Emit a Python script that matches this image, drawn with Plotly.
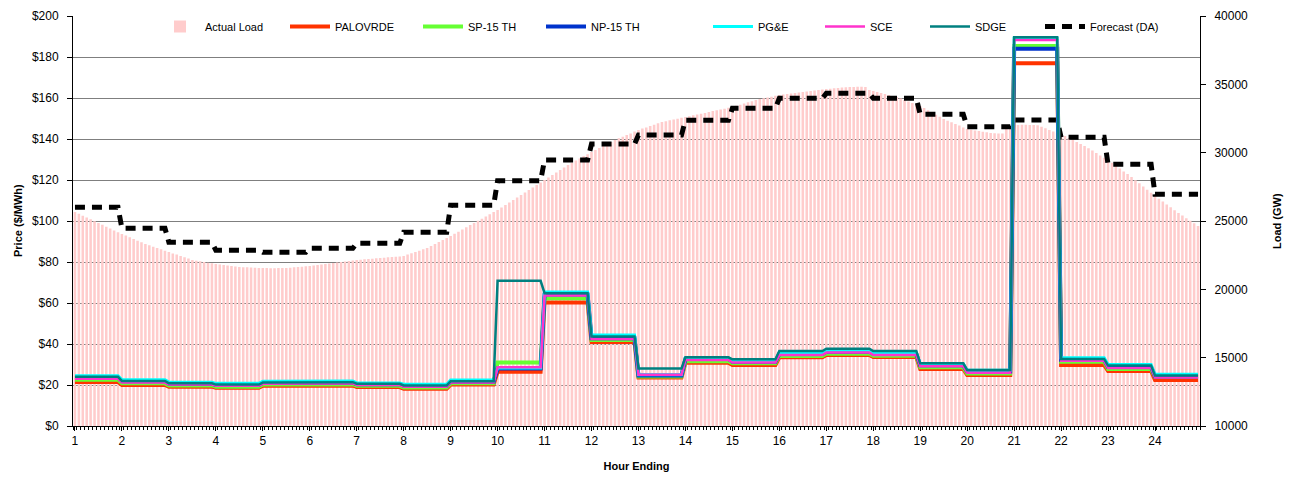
import numpy as np
import plotly.graph_objects as go

# ---------------- data ----------------
hours = list(range(1, 25))
intervals_per_hour = 12

# Actual load (MW), one value per 5-minute interval, hour by hour
actual_load = [
    25660, 25530, 25390, 25260, 25120, 24990, 24850, 24720, 24580, 24450, 24310, 24180,  # 1
    24050, 23930, 23810, 23680, 23560, 23440, 23320, 23220, 23120, 23030, 22930, 22830,  # 2
    22730, 22630, 22540, 22440, 22340, 22250, 22150, 22100, 22050, 22000, 21950, 21900,  # 3
    21850, 21820, 21780, 21740, 21710, 21670, 21630, 21620, 21610, 21600, 21580, 21570,  # 4
    21560, 21560, 21550, 21550, 21560, 21560, 21560, 21580, 21610, 21630, 21660, 21680,  # 5
    21710, 21740, 21780, 21820, 21850, 21890, 21930, 21960, 22000, 22040, 22070, 22110,  # 6
    22150, 22170, 22200, 22220, 22240, 22270, 22290, 22320, 22340, 22370, 22390, 22410,  # 7
    22440, 22540, 22640, 22730, 22830, 22930, 23020, 23170, 23310, 23460, 23610, 23750,  # 8
    23900, 24060, 24220, 24380, 24540, 24700, 24850, 25010, 25170, 25330, 25490, 25650,  # 9
    25810, 25990, 26170, 26350, 26540, 26720, 26900, 27080, 27270, 27450, 27630, 27820,  # 10
    28000, 28180, 28370, 28550, 28730, 28910, 29100, 29260, 29420, 29570, 29730, 29890,  # 11
    30050, 30200, 30340, 30490, 30630, 30780, 30930, 31050, 31170, 31290, 31410, 31540,  # 12
    31660, 31760, 31850, 31950, 32050, 32150, 32240, 32300, 32370, 32430, 32490, 32550,  # 13
    32610, 32670, 32730, 32790, 32850, 32910, 32980, 33040, 33100, 33160, 33220, 33280,  # 14
    33340, 33430, 33510, 33600, 33680, 33770, 33850, 33920, 33980, 34040, 34100, 34160,  # 15
    34220, 34260, 34290, 34330, 34370, 34400, 34440, 34480, 34510, 34550, 34590, 34620,  # 16
    34660, 34680, 34710, 34730, 34760, 34780, 34800, 34810, 34820, 34820, 34810, 34590,  # 17
    34510, 34440, 34370, 34290, 34220, 34150, 34070, 33960, 33850, 33740, 33630, 33520,  # 18
    33420, 33260, 33100, 32940, 32780, 32620, 32460, 32340, 32220, 32100, 31980, 31850,  # 19
    31730, 31680, 31630, 31580, 31530, 31490, 31440, 31420, 31400, 31400, 31760, 31950,  # 20
    32020, 32030, 32040, 32040, 32030, 32020, 32000, 31900, 31780, 31660, 31540, 31430,  # 21
    31370, 31220, 31080, 30930, 30780, 30640, 30490, 30320, 30150, 29980, 29800, 29630,  # 22
    29460, 29260, 29050, 28840, 28630, 28430, 28220, 27990, 27760, 27520, 27290, 27060,  # 23
    26830, 26620, 26420, 26210, 26000, 25790, 25590, 25400, 25210, 25020, 24830, 24640,  # 24
]

# Hourly prices ($/MWh)
palovrde = [21.5, 20.0, 19.2, 18.6, 19.6, 19.8, 19.0, 18.2, 20.2, 26.5, 60.2, 41.0,
            23.7, 30.9, 29.8, 33.5, 34.6, 33.6, 27.8, 24.9, 177.0, 29.8, 26.8, 22.4]
sp15 = [22.5, 20.8, 19.8, 19.2, 20.2, 20.4, 19.6, 18.8, 20.8, 31.0, 62.3, 42.0,
        24.2, 31.6, 30.6, 34.2, 35.3, 34.3, 28.6, 25.6, 185.4, 31.3, 27.8, 23.9]
np15 = [23.5, 21.8, 20.6, 20.0, 21.0, 21.2, 20.4, 19.6, 21.6, 28.0, 64.2, 42.8,
        24.6, 32.7, 31.4, 35.1, 36.2, 35.1, 29.6, 26.6, 184.0, 32.3, 28.8, 24.2]
pge = [24.5, 22.6, 21.4, 20.8, 21.8, 22.0, 21.0, 20.4, 22.4, 28.3, 65.4, 44.4,
       25.0, 33.2, 32.0, 35.8, 36.9, 35.8, 30.4, 27.2, 189.0, 33.3, 30.0, 25.2]
sce = [23.0, 21.2, 20.2, 19.6, 20.6, 20.8, 20.0, 19.2, 21.2, 28.6, 63.6, 42.4,
       25.0, 32.2, 31.0, 34.6, 35.8, 34.6, 29.2, 26.0, 188.3, 31.8, 28.3, 23.6]
sdge = [24.0, 22.0, 20.8, 20.2, 21.2, 21.4, 20.6, 19.8, 21.8, 70.8, 64.8, 43.6,
        28.1, 33.5, 32.5, 36.6, 37.7, 36.6, 30.6, 27.3, 189.6, 32.7, 29.5, 24.6]

# Hourly day-ahead load forecast (MW)
forecast_da = [26000, 24470, 23440, 22860, 22710, 23000, 23370, 24170, 26150, 27950, 29460, 30630,
               31290, 32370, 33250, 33980, 34340, 33980, 32810, 31900, 32390, 31120, 29150, 26950]

price_ticks = list(range(0, 201, 20))
load_ticks = list(range(10000, 40001, 5000))

# ---------------- figure ----------------
n = len(actual_load)
x = 1 + np.arange(n) / intervals_per_hour

def expand(hourly):
    return np.repeat(np.array(hourly, dtype=float), intervals_per_hour)

# legend entry left edges, in px from the plot's left edge
legend_px = {"Actual Load": 82, "PALOVRDE": 212, "SP-15 TH": 345, "NP-15 TH": 468,
             "PG&E": 635, "SCE": 747, "SDGE": 852, "Forecast (DA)": 967}
legend_ids = {name: ("legend" if i == 0 else f"legend{i + 1}")
              for i, name in enumerate(legend_px)}

PLOT_W = 1127
PLOT_H = 410

fig = go.Figure()

fig.add_trace(go.Bar(x=x, y=actual_load, name="Actual Load", yaxis="y",
                     legend=legend_ids["Actual Load"],
                     marker=dict(color="#FFCCCC", line=dict(width=0))))

fig.add_trace(go.Scatter(x=x, y=expand(forecast_da), name="Forecast (DA)", yaxis="y",
                         legend=legend_ids["Forecast (DA)"],
                         mode="lines", line=dict(color="black", width=5, dash="10px,7px")))

series = [
    ("PALOVRDE", palovrde, "#FF3300", 4),
    ("SP-15 TH", sp15, "#66FF33", 4),
    ("NP-15 TH", np15, "#0033CC", 4),
    ("PG&E", pge, "#00FFFF", 3),
    ("SCE", sce, "#FF33CC", 2.5),
    ("SDGE", sdge, "#008080", 2.5),
]
for name, vals, col, w in series:
    fig.add_trace(go.Scatter(x=x, y=expand(vals), name=name, yaxis="y2", mode="lines",
                             legend=legend_ids[name],
                             line=dict(color=col, width=w)))

font = "Liberation Sans, Arial, sans-serif"

legend_layouts = {}
for name, px in legend_px.items():
    legend_layouts[legend_ids[name]] = dict(
        orientation="h", x=px / PLOT_W, y=1 + 4 / PLOT_H, xanchor="left", yanchor="top",
        bgcolor="rgba(255,255,255,0)", font=dict(size=11), itemwidth=40)

# the page adds an 8px body margin, so the figure is sized to fit inside it
fig.update_layout(
    width=1286, height=470,
    paper_bgcolor="white", plot_bgcolor="white",
    margin=dict(l=65, r=94, t=8, b=52, autoexpand=False),
    bargap=0.35,
    font=dict(family=font, size=12, color="black"),
    showlegend=True,
    xaxis=dict(range=[1 - 0.5 / 12, 1 + (n - 0.5) / 12],
               tickvals=hours, ticktext=[str(h) for h in hours],
               showgrid=False, zeroline=False,
               showline=True, linecolor="black", linewidth=1,
               ticks="outside", ticklen=4, tickcolor="black",
               minor=dict(ticks="outside", ticklen=3, tickcolor="black",
                          dtick=1 / 12, tick0=1 - 0.5 / 12, showgrid=False),
               title=dict(text="<b>Hour Ending</b>", font=dict(size=11), standoff=14),
               tickfont=dict(size=12)),
    yaxis=dict(range=[10000, 40000], tickvals=load_ticks, tickformat="d", side="right",
               showgrid=False, zeroline=False,
               showline=True, linecolor="black", linewidth=1,
               ticks="outside", ticklen=5, tickcolor="black", ticklabelstandoff=6,
               tickfont=dict(size=12)),
    yaxis2=dict(range=[0, 200], tickvals=price_ticks,
                ticktext=["$" + str(v) for v in price_ticks],
                overlaying="y", side="left",
                showgrid=True, gridcolor="#7F7F7F", gridwidth=1, zeroline=False,
                showline=True, linecolor="black", linewidth=1,
                ticks="outside", ticklen=5, tickcolor="black", ticklabelstandoff=6,
                tickfont=dict(size=12)),
    annotations=[
        dict(text="<b>Price ($/MWh)</b>", xref="paper", yref="paper",
             x=(10 - 65) / PLOT_W, y=0.5, textangle=-90, showarrow=False,
             font=dict(size=11), xanchor="center", yanchor="middle"),
        dict(text="<b>Load (GW)</b>", xref="paper", yref="paper",
             x=(1269 - 65) / PLOT_W, y=0.5, textangle=-90, showarrow=False,
             font=dict(size=11), xanchor="center", yanchor="middle"),
    ],
    **legend_layouts,
)

fig.write_html("out.html")
